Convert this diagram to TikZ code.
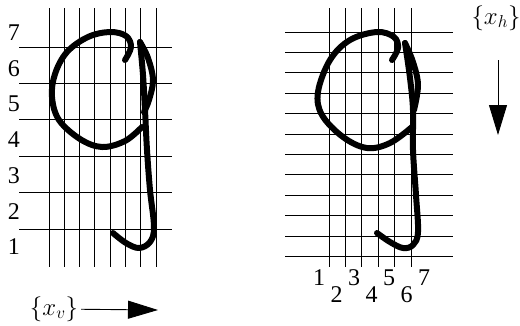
\documentclass[tikz,border=0pt]{standalone}
\usepackage{fontspec}
\setmainfont{Liberation Serif}
\usetikzlibrary{arrows.meta}

\begin{document}
\begin{tikzpicture}[x=1pt, y=-1pt,
  gridline/.style={line width=0.9pt},
  pen/.style={line width=6pt, line cap=round, line join=round},
  bigarrow/.style={line width=0.9pt, -{Triangle[length=30pt, width=18pt]}},
  num/.style={font=\fontsize{24}{28}\selectfont, inner sep=3pt}]
\useasboundingbox (0,0) rectangle (520,325);
% left grid, vertical samples
\foreach \i in {0,...,7}
  \draw[gridline] ({49+15.3*\i},8) -- ({49+15.3*\i},267);
\foreach \j in {0,...,5}
  \draw[gridline] (19,{47+36.4*\j}) -- (172,{47+36.4*\j});
\foreach \k in {1,...,7}
  \node[num] (v\k) at (14,{247-35.7*(\k-1)}) {\k};
% left letter
\draw[pen] plot[smooth, tension=0.6] coordinates {(125,60) (131,47) (126,36) (110,32) (88,37) (67,52) (55,74) (52,97) (59,120) (80,139) (102,147) (125,141) (142,127)};
\draw[pen] plot[smooth, tension=0.6] coordinates {(140,42) (148,58) (153,80) (149,100) (144,112)};
\draw[pen] plot[smooth, tension=0.6] coordinates {(140,42) (143,75) (145,110) (147,150) (150,190) (154,227) (150,242) (139,248) (126,243) (113,233)};
\node[num] (xv) at (54,309) {$\{x_v\}$};
\coordinate (xvend) at (158,310);
\draw[bigarrow] (xv) -- (xvend);
% right grid, horizontal samples
\foreach \i in {0,...,5}
  \draw[gridline] ({329+16.4*\i},8) -- ({329+16.4*\i},267);
\foreach \j in {0,...,11}
  \draw[gridline] (285,{32+20.4*\j}) -- (453,{32+20.4*\j});
\foreach \k in {1,3,5,7}
  \node[num] (h\k) at ({319+17.5*(\k-1)},278) {\k};
\foreach \k in {2,4,6}
  \node[num] (h\k) at ({319+17.5*(\k-1)},295) {\k};
% right letter
\draw[pen] plot[smooth, tension=0.6] coordinates {(392,60) (398,48) (394,37) (377,32) (350,40) (330,60) (318,92) (322,115) (343,137) (367,148) (390,143) (412,127)};
\draw[pen] plot[smooth, tension=0.6] coordinates {(405,43) (413,62) (418,85) (414,110)};
\draw[pen] plot[smooth, tension=0.6] coordinates {(405,43) (410,78) (413,110) (413,150) (416,195) (418,232) (413,245) (403,248) (390,242) (377,233)};
\node[num] (xh) at (496,18) {$\{x_h\}$};
\coordinate (xhtop) at (498,60);
\coordinate (xhbot) at (498,135);
\draw[bigarrow] (xhtop) -- (xhbot);
\end{tikzpicture}
\end{document}
